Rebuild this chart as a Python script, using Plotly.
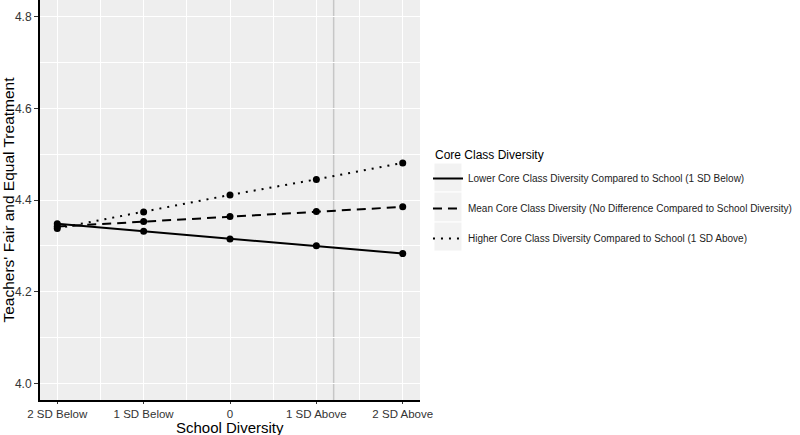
import plotly.graph_objects as go

# ---- data ----
school_div = [-2, -1, 0, 1, 2]
school_labels = ["2 SD Below", "1 SD Below", "0", "1 SD Above", "2 SD Above"]
lower_core = [4.348, 4.332, 4.315, 4.300, 4.283]
mean_core = [4.342, 4.353, 4.364, 4.375, 4.385]
higher_core = [4.338, 4.374, 4.411, 4.445, 4.481]
series_names = [
    "Lower Core Class Diversity Compared to School (1 SD Below)",
    "Mean Core Class Diversity (No Difference Compared to School Diversity)",
    "Higher Core Class Diversity Compared to School (1 SD Above)",
]
legend_title = "Core Class Diversity"
x_title = "School Diversity"
y_title = "Teachers' Fair and Equal Treatment"
ref_line_x = 1.2
y_ticks = [4.0, 4.2, 4.4, 4.6, 4.8]
y_minor = [4.1, 4.3, 4.5, 4.7]
x_minor = [-1.5, -0.5, 0.5, 1.5]

FONT = "Liberation Sans, Arial, sans-serif"
dashes = ["solid", "9px,6px", "2px,6px"]

fig = go.Figure()
fig.add_vline(x=ref_line_x, line=dict(color="#c6c6c6", width=1.5), layer="below")

for i, (name, vals) in enumerate(zip(series_names, [lower_core, mean_core, higher_core])):
    fig.add_trace(go.Scatter(
        x=school_div, y=vals, mode="lines", name=name,
        line=dict(color="black", width=2, dash=dashes[i]),
        legendgroup=f"g{i}", showlegend=True,
    ))
for i, vals in enumerate([lower_core, mean_core, higher_core]):
    fig.add_trace(go.Scatter(
        x=school_div, y=vals, mode="markers",
        marker=dict(color="black", size=7),
        showlegend=False, hoverinfo="skip",
    ))

# legend key backgrounds (paper coords)
boxes = [(0.5925, 0.52), (0.52, 0.445), (0.445, 0.3725)]
for top, bot in boxes:
    fig.add_shape(type="rect", xref="paper", yref="paper",
                  x0=1.0368, x1=1.1105, y0=bot, y1=top,
                  fillcolor="#f2f2f2", line=dict(color="white", width=1), layer="below")

fig.add_annotation(text=legend_title, xref="paper", yref="paper", x=1.034, y=0.6125,
                   xanchor="left", yanchor="middle", showarrow=False,
                   font=dict(size=12, color="black", family=FONT))
fig.add_annotation(text=x_title, xref="paper", yref="paper", x=0.5, y=-0.068,
                   xanchor="center", yanchor="middle", showarrow=False,
                   font=dict(size=15, color="black", family=FONT))

fig.update_layout(
    width=800, height=435,
    margin=dict(l=40, r=380, t=0, b=35, autoexpand=False),
    paper_bgcolor="white", plot_bgcolor="#eeeeee",
    font=dict(family=FONT, color="black"),
    legend=dict(
        x=1.021, xanchor="left", y=0.59, yanchor="top",
        font=dict(size=10, color="#222222"),
        itemwidth=30, tracegroupgap=11, traceorder="grouped",
        bgcolor="rgba(0,0,0,0)",
    ),
    showlegend=True,
)
fig.update_xaxes(
    range=[-2.2, 2.2], tickmode="array", tickvals=school_div, ticktext=school_labels,
    showgrid=True, gridcolor="white", gridwidth=1.3,
    minor=dict(tickvals=x_minor, showgrid=True, gridcolor="white", gridwidth=0.6),
    zeroline=False, showline=True, linecolor="black", linewidth=2,
    ticks="outside", ticklen=2, tickwidth=1, tickcolor="#333333",
    tickfont=dict(size=11.5, color="#333333", family=FONT),
    automargin=False,
)
fig.update_yaxes(
    range=[3.9636, 4.8364], tickmode="array", tickvals=y_ticks,
    ticktext=[f"{v:.1f}" for v in y_ticks],
    showgrid=True, gridcolor="white", gridwidth=1.3,
    minor=dict(tickvals=y_minor, showgrid=True, gridcolor="white", gridwidth=0.6),
    zeroline=False, showline=True, linecolor="black", linewidth=2,
    ticks="outside", ticklen=4, tickwidth=1, tickcolor="#333333",
    tickfont=dict(size=12, color="#333333", family=FONT),
    title=dict(text=y_title, font=dict(size=15.5, color="black"), standoff=2),
    automargin=False,
)

fig.write_html("out.html", config={"displayModeBar": False},
               post_script="document.body.style.margin='0';")
